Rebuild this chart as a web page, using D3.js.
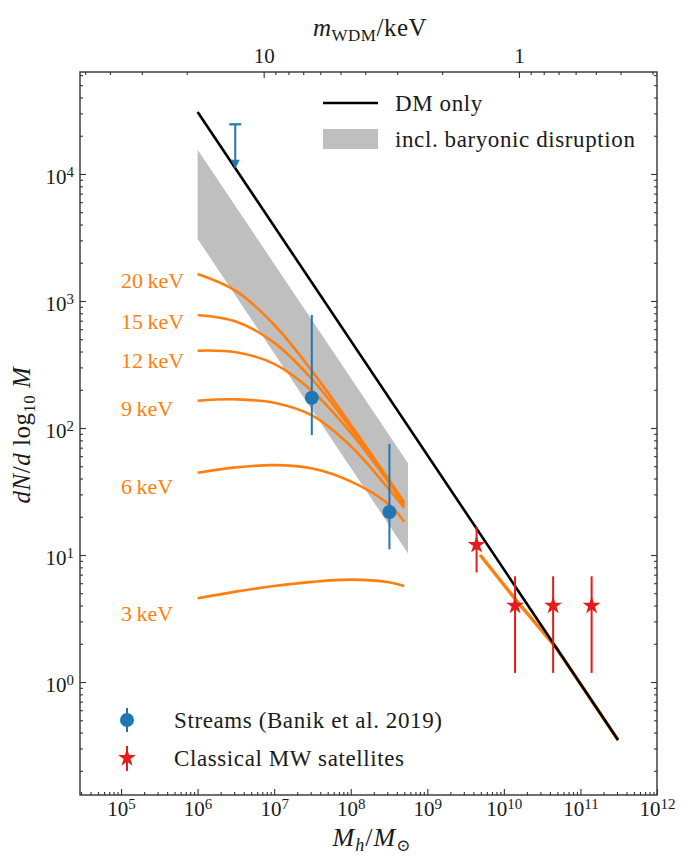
<!DOCTYPE html>
<html>
<head>
<meta charset="utf-8">
<script src="https://cdn.jsdelivr.net/npm/d3@7"></script>
<style>
  body { margin: 0; background: #fff; }
  text { font-family: "Liberation Serif", "DejaVu Serif", serif; fill: #1a1a1a; }
  .axis path.domain { display: none; }
  .axis line { stroke: #333; stroke-width: 1.1; }
  .legend { font-size: 23px; letter-spacing: 0.6px; }
</style>
</head>
<body>
<div id="chart-area"></div>
<script>
// ---- data ----
var massGrid = [1e6, 3.16e6, 1e7, 3.16e7, 1e8, 3.16e8, 5e8];
var wdm20 = [1630, 1200, 650, 278, 106, 39, 26];
var wdm15 = [776, 690, 470, 240, 100, 38, 25.5];
var wdm12 = [406, 395, 320, 195, 92, 37, 24.5];
var wdm9  = [164, 168, 158, 125, 72, 33, 23.5];
var wdm6  = [44.5, 49, 51, 48, 38, 25, 18.3];
var wdm3  = [4.56, 5.15, 5.7, 6.15, 6.4, 6.1, 5.7];
var wdmNames = ["20 keV", "15 keV", "12 keV", "9 keV", "6 keV", "3 keV"];
var wdmLabelM = [1e5, 1e5, 1e5, 1e5, 1e5, 1e5];
var wdmLabelN = [1463, 687, 343, 144, 34.5, 3.5];

var dmM = [1e6, 3.1e11];
var dmN = [3.08e4, 0.35];

var bandM = [1e6, 5.6e8];
var bandUpper = [1.55e4, 52.7];
var bandLower = [3.08e3, 10.3];

var satModelM = [4.9e9, 1.45e10, 4.7e10, 3.1e11];
var satModelN = [10.0, 4.4, 1.9, 0.35];

var streamM = [3.1e7, 3.2e8];
var streamN = [173, 21.8];
var streamLo = [88, 11.1];
var streamHi = [776, 75];
var limitM = [3.1e6];
var limitN = [2.46e4];
var limitTo = [1.1e4];

var satM = [4.4e9, 1.4e10, 4.4e10, 1.4e11];
var satN = [12, 4, 4, 4];
var satLo = [7.3, 1.18, 1.18, 1.18];
var satHi = [16.7, 6.8, 6.8, 6.8];

var bottomTicks = [1e5, 1e6, 1e7, 1e8, 1e9, 1e10, 1e11, 1e12];
var leftTicks = [1, 10, 100, 1000, 10000];
var topTicks = [10, 1];

// ---- layout ----
var margin = {left: 80, top: 72, right: 31, bottom: 65};
var width = 688 - margin.left - margin.right,
    height = 860 - margin.top - margin.bottom;

var orange = "#ff7f0e", blue = "#1f77b4", red = "#e41a1c";

var svg = d3.select("#chart-area")
    .append("svg")
        .attr("width", 688)
        .attr("height", 860);

var g = svg.append("g")
    .attr("transform", "translate(" + margin.left + ", " + margin.top + ")");

var x = d3.scaleLog().domain([2.91e4, 1e12]).range([0, width]);
var y = d3.scaleLog().domain([0.129, 6.35e4]).range([height, 0]);
// m_WDM axis on top (half-mode mass relation)
var xm = d3.scaleLog().domain([52.4, 0.288]).range([0, width]);

function minors(lo, hi) {
    var out = [];
    for (var e = -2; e <= 12; e++) {
        for (var k = 2; k <= 9; k++) {
            var v = k * Math.pow(10, e);
            if (v >= lo && v <= hi) out.push(v);
        }
    }
    return out;
}

// ---- axes ----
function powLabel(sel) {
    sel.each(function(d) {
        var t = d3.select(this);
        var e = Math.round(Math.log10(d));
        t.text(null);
        t.append("tspan").text("10");
        t.append("tspan").attr("dy", "-0.45em").attr("font-size", "15px").text(e);
    });
}

var xAxisGroup = g.append("g")
    .attr("class", "x axis")
    .attr("transform", "translate(0, " + height + ")")
    .call(d3.axisBottom(x).tickValues(bottomTicks).tickSize(-6).tickSizeOuter(0).tickPadding(6));
xAxisGroup.selectAll("text").attr("font-size", "21px").call(powLabel);
g.append("g").attr("class", "axis")
    .attr("transform", "translate(0, " + height + ")")
    .call(d3.axisBottom(x).tickValues(minors(2.91e4, 1e12)).tickSize(-3).tickSizeOuter(0).tickFormat(""));

var yAxisGroup = g.append("g")
    .attr("class", "y axis")
    .call(d3.axisLeft(y).tickValues(leftTicks).tickSize(-6).tickSizeOuter(0).tickPadding(6));
yAxisGroup.selectAll("text").attr("font-size", "21px").attr("dy", "0.45em").call(powLabel);
g.append("g").attr("class", "axis")
    .call(d3.axisLeft(y).tickValues(minors(0.129, 6.35e4)).tickSize(-3).tickSizeOuter(0).tickFormat(""));

g.append("g").attr("class", "axis")
    .attr("transform", "translate(" + width + ", 0)")
    .call(d3.axisRight(y).tickValues(leftTicks).tickSize(-6).tickSizeOuter(0).tickFormat(""));
g.append("g").attr("class", "axis")
    .attr("transform", "translate(" + width + ", 0)")
    .call(d3.axisRight(y).tickValues(minors(0.129, 6.35e4)).tickSize(-3).tickSizeOuter(0).tickFormat(""));

var topAxisGroup = g.append("g")
    .attr("class", "axis")
    .call(d3.axisTop(xm).tickValues(topTicks).tickSize(-6).tickSizeOuter(0).tickPadding(9).tickFormat(d3.format("d")));
topAxisGroup.selectAll("text").attr("font-size", "21px");
g.append("g").attr("class", "axis")
    .call(d3.axisTop(xm).tickValues(minors(0.288, 52.4)).tickSize(-3).tickSizeOuter(0).tickFormat(""));

// ---- plot content ----
var area = d3.area()
    .x(function(d) { return x(d[0]); })
    .y0(function(d) { return y(d[1]); })
    .y1(function(d) { return y(d[2]); });

g.append("path")
    .datum(bandM.map(function(m, i) { return [m, bandLower[i], bandUpper[i]]; }))
    .attr("fill", "#bfbfbf")
    .attr("d", area);

var curve = d3.line()
    .x(function(d) { return x(d[0]); })
    .y(function(d) { return y(d[1]); })
    .curve(d3.curveCatmullRom.alpha(0.5));

var wdmSeries = [wdm20, wdm15, wdm12, wdm9, wdm6, wdm3];
g.selectAll(".wdm")
    .data(wdmSeries)
    .enter()
    .append("path")
        .attr("class", "wdm")
        .attr("fill", "none")
        .attr("stroke", orange)
        .attr("stroke-width", 2.6)
        .attr("d", function(s) { return curve(massGrid.map(function(m, i) { return [m, s[i]]; })); });

g.selectAll(".wdm-label")
    .data(wdmNames)
    .enter()
    .append("text")
        .attr("class", "wdm-label")
        .attr("x", function(d, i) { return x(wdmLabelM[i]); })
        .attr("y", function(d, i) { return y(wdmLabelN[i]); })
        .attr("dy", "0.35em")
        .attr("font-size", "22px")
        .style("fill", orange)
        .text(function(d) { return d.replace(" ", "\u2009"); });

var straight = d3.line()
    .x(function(d) { return x(d[0]); })
    .y(function(d) { return y(d[1]); });

g.append("path")
    .attr("fill", "none")
    .attr("stroke", orange)
    .attr("stroke-width", 3.4)
    .attr("d", straight(satModelM.map(function(m, i) { return [m, satModelN[i]]; })));

g.append("path")
    .attr("fill", "none")
    .attr("stroke", "#000")
    .attr("stroke-width", 2.6)
    .attr("d", straight(dmM.map(function(m, i) { return [m, dmN[i]]; })));

// streams
g.selectAll(".stream-err")
    .data(streamM)
    .enter()
    .append("line")
        .attr("x1", function(d) { return x(d); })
        .attr("x2", function(d) { return x(d); })
        .attr("y1", function(d, i) { return y(streamLo[i]); })
        .attr("y2", function(d, i) { return y(streamHi[i]); })
        .attr("stroke", blue)
        .attr("stroke-width", 2);
g.selectAll(".stream-pt")
    .data(streamM)
    .enter()
    .append("circle")
        .attr("cx", function(d) { return x(d); })
        .attr("cy", function(d, i) { return y(streamN[i]); })
        .attr("r", 7)
        .attr("fill", blue);

limitM.forEach(function(m, i) {
    var cx = x(m), top = y(limitN[i]), tip = y(limitTo[i]);
    g.append("line").attr("x1", cx).attr("x2", cx).attr("y1", top).attr("y2", tip - 4)
        .attr("stroke", blue).attr("stroke-width", 2);
    g.append("line").attr("x1", cx - 6).attr("x2", cx + 6).attr("y1", top).attr("y2", top)
        .attr("stroke", blue).attr("stroke-width", 2.2);
    g.append("path")
        .attr("d", "M" + (cx - 4.5) + "," + (tip - 9) + "L" + (cx + 4.5) + "," + (tip - 9) + "L" + cx + "," + tip + "Z")
        .attr("fill", blue);
});

// classical satellites
var star = d3.symbol().type(d3.symbolStar).size(100);
g.selectAll(".sat-err")
    .data(satM)
    .enter()
    .append("line")
        .attr("x1", function(d) { return x(d); })
        .attr("x2", function(d) { return x(d); })
        .attr("y1", function(d, i) { return y(satLo[i]); })
        .attr("y2", function(d, i) { return y(satHi[i]); })
        .attr("stroke", red)
        .attr("stroke-width", 2);
g.selectAll(".sat-pt")
    .data(satM)
    .enter()
    .append("path")
        .attr("transform", function(d, i) { return "translate(" + x(d) + "," + y(satN[i]) + ")"; })
        .attr("d", star)
        .attr("fill", red);

// frame
g.append("rect")
    .attr("width", width)
    .attr("height", height)
    .attr("fill", "none")
    .attr("stroke", "#333")
    .attr("stroke-width", 1.4);

// ---- legends ----
svg.append("line").attr("x1", 323).attr("x2", 378).attr("y1", 103).attr("y2", 103)
    .attr("stroke", "#000").attr("stroke-width", 2.6);
svg.append("text").attr("class", "legend").attr("x", 395).attr("y", 103).attr("dy", "0.35em").text("DM only");
svg.append("rect").attr("x", 323).attr("y", 129).attr("width", 55).attr("height", 20).attr("fill", "#bfbfbf");
svg.append("text").attr("class", "legend").attr("x", 395).attr("y", 139).attr("dy", "0.35em").text("incl. baryonic disruption");

svg.append("line").attr("x1", 127).attr("x2", 127).attr("y1", 708).attr("y2", 732)
    .attr("stroke", blue).attr("stroke-width", 2);
svg.append("circle").attr("cx", 127).attr("cy", 720).attr("r", 7).attr("fill", blue);
svg.append("text").attr("class", "legend").attr("x", 174).attr("y", 720).attr("dy", "0.35em").text("Streams (Banik et al. 2019)");

svg.append("line").attr("x1", 127).attr("x2", 127).attr("y1", 746).attr("y2", 771)
    .attr("stroke", red).attr("stroke-width", 2);
svg.append("path").attr("transform", "translate(127,758)").attr("d", star).attr("fill", red);
svg.append("text").attr("class", "legend").attr("x", 174).attr("y", 758).attr("dy", "0.35em").text("Classical MW satellites");

// ---- axis titles ----
var xl = svg.append("text").attr("x", 372).attr("y", 846).attr("text-anchor", "middle")
    .attr("font-size", "26px").attr("letter-spacing", "1px");
xl.append("tspan").attr("font-style", "italic").text("M");
xl.append("tspan").attr("font-style", "italic").attr("font-size", "18px").attr("dy", "5").text("h");
xl.append("tspan").attr("dy", "-5").text("/");
xl.append("tspan").attr("font-style", "italic").text("M");
xl.append("tspan").attr("font-size", "17px").attr("dy", "5").text("\u2299");

var tl = svg.append("text").attr("x", 370).attr("y", 36).attr("text-anchor", "middle")
    .attr("font-size", "25px").attr("letter-spacing", "0.5px");
tl.append("tspan").attr("font-style", "italic").text("m");
tl.append("tspan").attr("font-size", "17px").attr("dy", "5").text("WDM");
tl.append("tspan").attr("dy", "-5").text("/keV");

var yl = svg.append("text")
    .attr("transform", "translate(30, 435) rotate(-90)")
    .attr("text-anchor", "middle")
    .attr("font-size", "25px")
    .attr("letter-spacing", "0.5px");
yl.append("tspan").attr("font-style", "italic").text("dN");
yl.append("tspan").text("/");
yl.append("tspan").attr("font-style", "italic").text("d");
yl.append("tspan").text(" log");
yl.append("tspan").attr("font-size", "17px").attr("dy", "5").text("10");
yl.append("tspan").attr("dy", "-5").text(" ");
yl.append("tspan").attr("font-style", "italic").text("M");
</script>
</body>
</html>
